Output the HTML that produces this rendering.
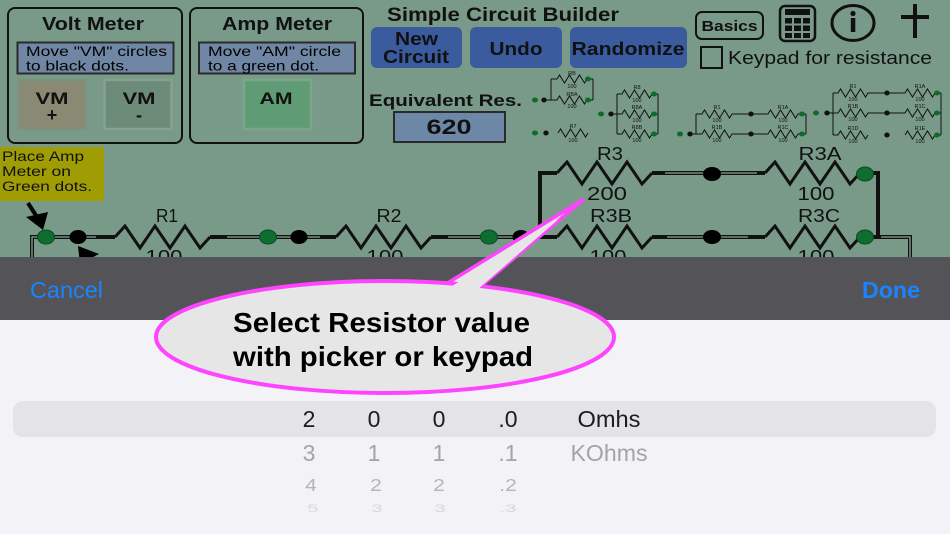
<!DOCTYPE html>
<html><head><meta charset="utf-8"><style>
html,body{margin:0;padding:0;width:950px;height:534px;overflow:hidden;background:#f2f2f7}
svg{display:block}
text{font-family:"Liberation Sans",Arial,sans-serif}
</style></head><body>
<svg width="950" height="534" viewBox="0 0 950 534" xmlns="http://www.w3.org/2000/svg">
<!-- top green area -->
<rect x="0" y="0" width="950" height="260" fill="#799a88"/>

<!-- Volt Meter panel -->
<rect x="8" y="8" width="174" height="135" rx="7" fill="none" stroke="#111" stroke-width="2"/>
<text x="42" y="30" font-size="18" font-weight="bold" fill="#111" textLength="102" lengthAdjust="spacingAndGlyphs">Volt Meter</text>
<rect x="17.5" y="42.5" width="156" height="31" fill="#6f87a4" stroke="#2a2a2a" stroke-width="2"/>
<text x="26" y="56" font-size="14" fill="#000" textLength="141" lengthAdjust="spacingAndGlyphs">Move "VM" circles</text>
<text x="26" y="70.5" font-size="14" fill="#000" textLength="103" lengthAdjust="spacingAndGlyphs">to black dots.</text>
<rect x="18.5" y="80" width="67" height="49" fill="#8a8a74" stroke="#7c927f" stroke-width="2.5"/>
<text x="52" y="104" font-size="17" font-weight="bold" fill="#111" text-anchor="middle" textLength="33" lengthAdjust="spacingAndGlyphs">VM</text>
<text x="52" y="121" font-size="18" font-weight="bold" fill="#111" text-anchor="middle">+</text>
<rect x="104.5" y="80" width="67" height="49" fill="#6c8b79" stroke="#86a190" stroke-width="2.5"/>
<text x="139" y="104" font-size="17" font-weight="bold" fill="#111" text-anchor="middle" textLength="33" lengthAdjust="spacingAndGlyphs">VM</text>
<text x="139" y="121" font-size="18" font-weight="bold" fill="#111" text-anchor="middle">-</text>

<!-- Amp Meter panel -->
<rect x="190" y="8" width="173" height="135" rx="7" fill="none" stroke="#111" stroke-width="2"/>
<text x="222" y="30" font-size="18" font-weight="bold" fill="#111" textLength="110" lengthAdjust="spacingAndGlyphs">Amp Meter</text>
<rect x="199" y="42.5" width="156" height="31" fill="#6f87a4" stroke="#2a2a2a" stroke-width="2"/>
<text x="208" y="56" font-size="14" fill="#000" textLength="133" lengthAdjust="spacingAndGlyphs">Move "AM" circle</text>
<text x="208" y="70.5" font-size="14" fill="#000" textLength="111" lengthAdjust="spacingAndGlyphs">to a green dot.</text>
<rect x="244" y="80" width="67" height="49" fill="#5f9b74" stroke="#7aa78a" stroke-width="2.5"/>
<text x="276" y="104" font-size="17" font-weight="bold" fill="#111" text-anchor="middle" textLength="33" lengthAdjust="spacingAndGlyphs">AM</text>

<!-- Title & buttons -->
<text x="387" y="21" font-size="19" font-weight="bold" fill="#111" textLength="232" lengthAdjust="spacingAndGlyphs">Simple Circuit Builder</text>
<rect x="371" y="27" width="91" height="41" rx="6" fill="#3b5b9f"/>
<text x="416.5" y="45" font-size="18" font-weight="bold" fill="#111" text-anchor="middle" textLength="43" lengthAdjust="spacingAndGlyphs">New</text>
<text x="416" y="63" font-size="18" font-weight="bold" fill="#111" text-anchor="middle" textLength="66" lengthAdjust="spacingAndGlyphs">Circuit</text>
<rect x="470" y="27" width="92" height="41" rx="6" fill="#3b5b9f"/>
<text x="516" y="55" font-size="18" font-weight="bold" fill="#111" text-anchor="middle" textLength="53" lengthAdjust="spacingAndGlyphs">Undo</text>
<rect x="570" y="27" width="117" height="41" rx="6" fill="#3b5b9f"/>
<text x="628" y="55" font-size="18" font-weight="bold" fill="#111" text-anchor="middle" textLength="113" lengthAdjust="spacingAndGlyphs">Randomize</text>

<!-- Basics / icons -->
<rect x="696" y="12" width="67" height="27" rx="6" fill="none" stroke="#111" stroke-width="2"/>
<text x="729.5" y="31" font-size="15" font-weight="bold" fill="#111" text-anchor="middle" textLength="56" lengthAdjust="spacingAndGlyphs">Basics</text>
<rect x="780" y="6" width="35" height="35" rx="5" fill="none" stroke="#111" stroke-width="2.5"/>
<rect x="785" y="9" width="25" height="6" fill="#111"/>
<g fill="#111">
<rect x="785" y="18" width="7" height="5.5"/><rect x="794" y="18" width="7" height="5.5"/><rect x="803" y="18" width="7" height="5.5"/>
<rect x="785" y="25.5" width="7" height="5.5"/><rect x="794" y="25.5" width="7" height="5.5"/><rect x="803" y="25.5" width="7" height="5.5"/>
<rect x="785" y="33" width="7" height="5"/><rect x="794" y="33" width="7" height="5"/><rect x="803" y="33" width="7" height="5"/>
</g>
<ellipse cx="853" cy="23" rx="21" ry="17.5" fill="none" stroke="#111" stroke-width="3"/>
<circle cx="853" cy="13.5" r="2.6" fill="#111"/>
<rect x="850.8" y="18" width="4.5" height="14" fill="#111"/>
<rect x="913" y="4" width="4" height="34" fill="#111"/>
<rect x="901" y="15" width="28" height="4" fill="#111"/>
<rect x="701" y="47" width="21" height="21" fill="none" stroke="#111" stroke-width="2"/>
<text x="728" y="64" font-size="18" fill="#111" textLength="204" lengthAdjust="spacingAndGlyphs">Keypad for resistance</text>

<!-- Equivalent Res -->
<text x="369" y="106" font-size="17" font-weight="bold" fill="#111" textLength="153" lengthAdjust="spacingAndGlyphs">Equivalent Res.</text>
<rect x="394" y="112" width="111" height="30" fill="#6d87a6" stroke="#2a2a2a" stroke-width="2"/>
<text x="449" y="134" font-size="21" font-weight="bold" fill="#111" text-anchor="middle" textLength="45" lengthAdjust="spacingAndGlyphs">620</text>

<!-- small circuit thumbnails -->
<g stroke="#111" stroke-width="1" fill="none">
<path d="M551,79 V100 M593,79 V100"/>
<path d="M544,100 H557 l2.5,-4 l5,8 l5,-8 l5,8 l5,-8 l5,8 l2.5,-4 H593"/>
<path d="M551,79 H557 l2.5,-4 l5,8 l5,-8 l5,8 l5,-8 l5,8 l2.5,-4 H593"/>
<path d="M558,133 l2.5,-4 l5,8 l5,-8 l5,8 l5,-8 l5,8 l2.5,-4"/>
<path d="M617,94 V134 M658,94 V134"/>
<path d="M611,114 H622 l2.5,-4 l5,8 l5,-8 l5,8 l5,-8 l5,8 l2.5,-4 H658"/>
<path d="M617,94 H622 l2.5,-4 l5,8 l5,-8 l5,8 l5,-8 l5,8 l2.5,-4 H658"/>
<path d="M617,134 H622 l2.5,-4 l5,8 l5,-8 l5,8 l5,-8 l5,8 l2.5,-4 H658"/>
<path d="M696,114 V134 M806,114 V134"/>
<path d="M696,114 H702 l2.5,-4 l5,8 l5,-8 l5,8 l5,-8 l5,8 l2.5,-4 H768 l2.5,-4 l5,8 l5,-8 l5,8 l5,-8 l5,8 l2.5,-4 H806"/>
<path d="M690,134 H702 l2.5,-4 l5,8 l5,-8 l5,8 l5,-8 l5,8 l2.5,-4 H768 l2.5,-4 l5,8 l5,-8 l5,8 l5,-8 l5,8 l2.5,-4 H806"/>
<path d="M833,93 V135 M941,93 V135"/>
<path d="M833,93 H838 l2.5,-4 l5,8 l5,-8 l5,8 l5,-8 l5,8 l2.5,-4 H905 l2.5,-4 l5,8 l5,-8 l5,8 l5,-8 l5,8 l2.5,-4 H941"/>
<path d="M827,113 H838 l2.5,-4 l5,8 l5,-8 l5,8 l5,-8 l5,8 l2.5,-4 H905 l2.5,-4 l5,8 l5,-8 l5,8 l5,-8 l5,8 l2.5,-4 H941"/>
<path d="M833,135 H838 l2.5,-4 l5,8 l5,-8 l5,8 l5,-8 l5,8 l2.5,-4 M905,135 l2.5,-4 l5,8 l5,-8 l5,8 l5,-8 l5,8 l2.5,-4 H941"/>
</g>
<g fill="#0d6b2e">
<ellipse cx="535" cy="100" rx="3" ry="2.5"/><ellipse cx="588" cy="79" rx="3" ry="2.5"/><ellipse cx="588" cy="100" rx="3" ry="2.5"/>
<ellipse cx="535" cy="133" rx="3" ry="2.5"/>
<ellipse cx="601" cy="114" rx="3" ry="2.5"/><ellipse cx="654" cy="94" rx="3" ry="2.5"/><ellipse cx="654" cy="114" rx="3" ry="2.5"/><ellipse cx="654" cy="134" rx="3" ry="2.5"/>
<ellipse cx="680" cy="134" rx="3" ry="2.5"/><ellipse cx="802" cy="114" rx="3" ry="2.5"/><ellipse cx="802" cy="134" rx="3" ry="2.5"/>
<ellipse cx="816" cy="113" rx="3" ry="2.5"/><ellipse cx="937" cy="93" rx="3" ry="2.5"/><ellipse cx="937" cy="113" rx="3" ry="2.5"/><ellipse cx="937" cy="135" rx="3" ry="2.5"/>
</g>
<g fill="#111">
<ellipse cx="544" cy="100" rx="2.7" ry="2.5"/><ellipse cx="546" cy="133" rx="2.7" ry="2.5"/>
<ellipse cx="611" cy="114" rx="2.7" ry="2.5"/>
<ellipse cx="690" cy="134" rx="2.7" ry="2.5"/><ellipse cx="751" cy="114" rx="2.7" ry="2.5"/><ellipse cx="751" cy="134" rx="2.7" ry="2.5"/>
<ellipse cx="827" cy="113" rx="2.7" ry="2.5"/><ellipse cx="887" cy="93" rx="2.7" ry="2.5"/><ellipse cx="887" cy="113" rx="2.7" ry="2.5"/><ellipse cx="887" cy="135" rx="2.7" ry="2.5"/>
</g>
<g font-size="5.5" fill="#111" text-anchor="middle">
<text x="572" y="75">RB</text><text x="572" y="88">100</text><text x="572" y="96">RBA</text><text x="572" y="108">100</text>
<text x="573" y="128">R7</text><text x="573" y="142">100</text>
<text x="637" y="89">R8</text><text x="637" y="102">100</text><text x="637" y="109">R8A</text><text x="637" y="122">100</text><text x="637" y="129">R8B</text><text x="637" y="142">100</text>
<text x="717" y="109">R1</text><text x="717" y="122">100</text><text x="783" y="109">R1A</text><text x="783" y="122">100</text>
<text x="717" y="129">R1B</text><text x="717" y="142">100</text><text x="783" y="129">R1C</text><text x="783" y="142">100</text>
<text x="853" y="88">R1</text><text x="853" y="101">100</text><text x="920" y="88">R1A</text><text x="920" y="101">100</text>
<text x="853" y="108">R1B</text><text x="853" y="121">100</text><text x="920" y="108">R1C</text><text x="920" y="121">100</text>
<text x="853" y="130">R1D</text><text x="853" y="143">100</text><text x="920" y="130">R1E</text><text x="920" y="143">100</text>
</g>

<!-- yellow note -->
<rect x="0" y="147" width="104" height="54" fill="#a09c04"/>
<text x="2" y="161" font-size="13.5" fill="#111" textLength="82" lengthAdjust="spacingAndGlyphs">Place Amp</text>
<text x="2" y="176" font-size="13.5" fill="#111" textLength="69" lengthAdjust="spacingAndGlyphs">Meter on</text>
<text x="2" y="191" font-size="13.5" fill="#111" textLength="90" lengthAdjust="spacingAndGlyphs">Green dots.</text>

<!-- main circuit wires -->
<g stroke="#111" stroke-width="4" fill="none">
<path d="M32,262 V237 H115"/>
<path d="M210,237 H336"/>
<path d="M431,237 H540"/>
<path d="M540,171 V237"/>
<path d="M540,173 H557"/>
<path d="M652,173 H765"/>
<path d="M860,173 H878 V237"/>
<path d="M540,237 H557"/>
<path d="M652,237 H765"/>
<path d="M860,237 H910 V262"/>
</g>
<g stroke="#8aa597" stroke-width="1.3" fill="none">
<path d="M32,262 V237 H96"/>
<path d="M227,237 H320"/>
<path d="M448,237 H525"/>
<path d="M665,173 H757"/>
<path d="M667,237 H748"/>
<path d="M881,237 H910 V262"/>
</g>
<g stroke="#111" stroke-width="3" fill="none" stroke-linejoin="miter">
<path d="M115,237 l10,-11 l15,22 l15,-22 l15,22 l15,-22 l15,22 l10,-11"/>
<path d="M336,237 l10,-11 l15,22 l15,-22 l15,22 l15,-22 l15,22 l10,-11"/>
<path d="M557,173 l10,-11 l15,22 l15,-22 l15,22 l15,-22 l15,22 l10,-11"/>
<path d="M765,173 l10,-11 l15,22 l15,-22 l15,22 l15,-22 l15,22 l10,-11"/>
<path d="M557,237 l10,-11 l15,22 l15,-22 l15,22 l15,-22 l15,22 l10,-11"/>
<path d="M765,237 l10,-11 l15,22 l15,-22 l15,22 l15,-22 l15,22 l10,-11"/>
</g>
<g fill="#0e6e30" stroke="#0a4a20" stroke-width="1">
<ellipse cx="46" cy="237" rx="8.5" ry="7"/>
<ellipse cx="268" cy="237" rx="8.5" ry="7"/>
<ellipse cx="489" cy="237" rx="8.5" ry="7"/>
<ellipse cx="865" cy="174" rx="8.5" ry="7"/>
<ellipse cx="865" cy="237" rx="8.5" ry="7"/>
</g>
<g fill="#000">
<ellipse cx="78" cy="237" rx="8.5" ry="7"/>
<ellipse cx="299" cy="237" rx="8.5" ry="7"/>
<ellipse cx="521" cy="237" rx="8.5" ry="7"/>
<ellipse cx="712" cy="174" rx="9" ry="7"/>
<ellipse cx="712" cy="237" rx="9" ry="7"/>
</g>
<!-- arrows -->
<line x1="28" y1="203" x2="37" y2="217" stroke="#000" stroke-width="4"/>
<polygon points="26,217 48,212 43,230" fill="#000"/>
<polygon points="78,246 99,254 80,264" fill="#000"/>

<!-- labels -->
<g font-size="18" fill="#111" text-anchor="middle">
<text x="167" y="222" textLength="22" lengthAdjust="spacingAndGlyphs">R1</text>
<text x="389" y="222" textLength="25" lengthAdjust="spacingAndGlyphs">R2</text>
<text x="164" y="263" textLength="37" lengthAdjust="spacingAndGlyphs">100</text>
<text x="385" y="263" textLength="37" lengthAdjust="spacingAndGlyphs">100</text>
<text x="610" y="160" textLength="26" lengthAdjust="spacingAndGlyphs">R3</text>
<text x="607" y="200" textLength="40" lengthAdjust="spacingAndGlyphs">200</text>
<text x="820" y="160" textLength="43" lengthAdjust="spacingAndGlyphs">R3A</text>
<text x="816" y="200" textLength="37" lengthAdjust="spacingAndGlyphs">100</text>
<text x="611" y="222" textLength="42" lengthAdjust="spacingAndGlyphs">R3B</text>
<text x="819" y="222" textLength="42" lengthAdjust="spacingAndGlyphs">R3C</text>
<text x="608" y="263" textLength="37" lengthAdjust="spacingAndGlyphs">100</text>
<text x="816" y="263" textLength="37" lengthAdjust="spacingAndGlyphs">100</text>
</g>

<!-- dark toolbar -->
<rect x="0" y="257" width="950" height="63" fill="#545458"/>
<text x="30" y="298" font-size="23" fill="#1a84ff" textLength="73" lengthAdjust="spacingAndGlyphs">Cancel</text>
<text x="862" y="298" font-size="23" font-weight="bold" fill="#1a84ff" textLength="58" lengthAdjust="spacingAndGlyphs">Done</text>

<!-- light picker area -->
<rect x="0" y="320" width="950" height="214" fill="#f2f2f7"/>
<rect x="13" y="401" width="923" height="36" rx="10" fill="#e3e3e8"/>
<g font-size="23" text-anchor="middle" fill="#1c1c1e">
<text x="309" y="427">2</text><text x="374" y="427">0</text><text x="439" y="427">0</text><text x="508" y="427">.0</text>
<text x="609" y="427" textLength="63" lengthAdjust="spacingAndGlyphs">Omhs</text>
</g>
<g font-size="23" text-anchor="middle" fill="#a3a3a8">
<text x="309" y="461">3</text><text x="374" y="461">1</text><text x="439" y="461">1</text><text x="508" y="461">.1</text>
<text x="609" y="461" textLength="77" lengthAdjust="spacingAndGlyphs">KOhms</text>
</g>
<g font-size="21" text-anchor="middle" fill="#b4b4b9" transform="translate(0,491) scale(1,0.85)">
<text x="311" y="0">4</text><text x="376" y="0">2</text><text x="439" y="0">2</text><text x="508" y="0">.2</text>
</g>
<g font-size="20" text-anchor="middle" fill="#d6d6db" transform="translate(0,512) scale(1,0.55)">
<text x="313" y="0">5</text><text x="377" y="0">3</text><text x="440" y="0">3</text><text x="508" y="0">.3</text>
</g>

<!-- callout -->
<polygon points="446,284 480,287 584,199" fill="#e6e6e6" stroke="#ff44ff" stroke-width="3.5" stroke-linejoin="miter"/>
<ellipse cx="385" cy="337" rx="229" ry="56" fill="#e6e6e6" stroke="#ff44ff" stroke-width="4"/>
<polygon points="449,288 477,290 560,218" fill="#e6e6e6"/>
<text x="233" y="332" font-size="28" font-weight="bold" fill="#000" textLength="297" lengthAdjust="spacingAndGlyphs">Select Resistor value</text>
<text x="233" y="366" font-size="28" font-weight="bold" fill="#000" textLength="300" lengthAdjust="spacingAndGlyphs">with picker or keypad</text>
</svg>
</body></html>
